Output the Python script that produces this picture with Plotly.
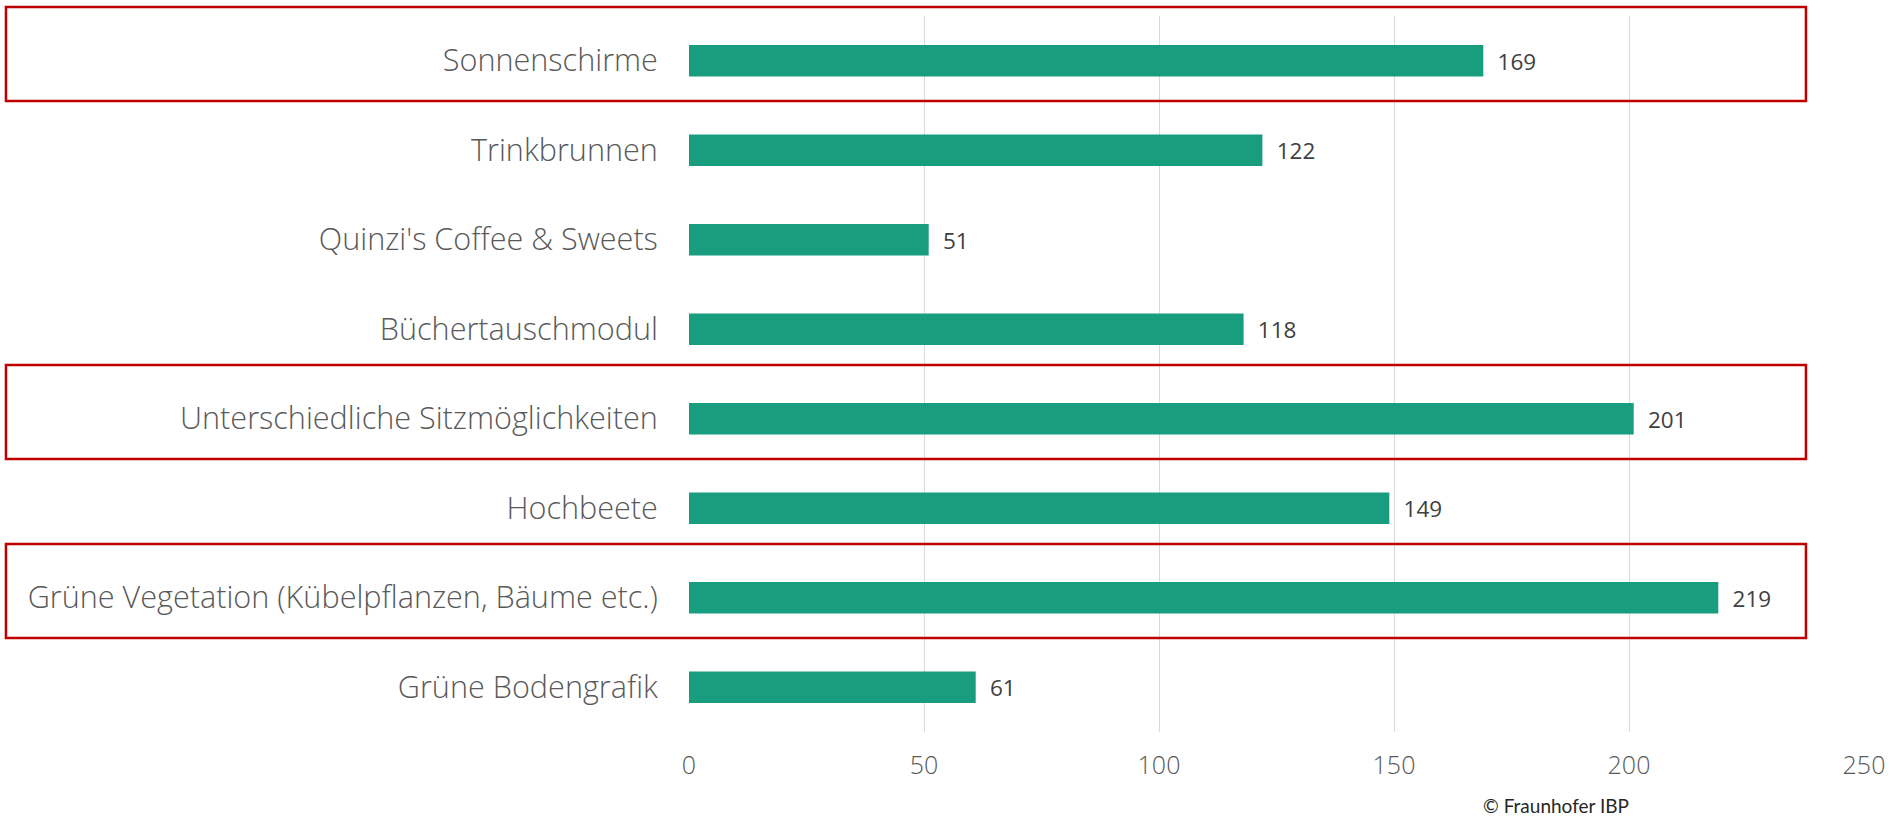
import plotly.graph_objects as go

categories = ["Sonnenschirme", "Trinkbrunnen", "Quinzi's Coffee & Sweets", "Büchertauschmodul",
              "Unterschiedliche Sitzmöglichkeiten", "Hochbeete",
              "Grüne Vegetation (Kübelpflanzen, Bäume etc.)", "Grüne Bodengrafik"]
values = [169, 122, 51, 118, 201, 149, 219, 61]
highlighted = ["Sonnenschirme", "Unterschiedliche Sitzmöglichkeiten",
               "Grüne Vegetation (Kübelpflanzen, Bäume etc.)"]
x_ticks = [0, 50, 100, 150, 200, 250]

n = len(categories)

def cat_to_paper(v):
    # y axis is reversed with range [n-0.5, -0.5]
    return 1 - (v + 0.5) / n

fig = go.Figure(go.Bar(
    x=values, y=categories, orientation="h",
    marker=dict(color="#189E7E", line=dict(width=0)),
    texttemplate="\u2002%{x}", textposition="outside",
    textfont=dict(family="Open Sans", size=23, color="#404040"),
    cliponaxis=False, width=0.35,
))

for c in highlighted:
    i = categories.index(c)
    fig.add_shape(type="rect", xref="paper", yref="paper",
                  x0=-0.5813, x1=0.9506,
                  y0=cat_to_paper(i + 0.45), y1=cat_to_paper(i - 0.60),
                  line=dict(color="#C00000", width=2.5), fillcolor="rgba(0,0,0,0)", layer="above")

fig.add_annotation(text="© Fraunhofer IBP", xref="paper", yref="paper", x=0.738, y=-0.103,
                   showarrow=False, font=dict(family="Lato", size=19, color="#262626"),
                   xanchor="center", yanchor="middle")

fig.update_layout(
    width=1898, height=822,
    margin=dict(l=689, r=34, t=16, b=90),
    plot_bgcolor="white", paper_bgcolor="white",
    showlegend=False,
    xaxis=dict(range=[0, 250], tickvals=x_ticks, showgrid=True, gridcolor="#D9D9D9", gridwidth=1,
               zeroline=False, showline=False, ticks="outside", ticklen=11,
               tickcolor="rgba(0,0,0,0)",
               tickfont=dict(family="Open Sans", size=25, color="#595959", weight=300)),
    yaxis=dict(categoryorder="array", categoryarray=categories, range=[n - 0.5, -0.5],
               showgrid=False, zeroline=False, showline=False, ticks="outside", ticklen=24,
               tickcolor="rgba(0,0,0,0)",
               tickfont=dict(family="Open Sans", size=30.6, color="#595959", weight=300)),
)

fig.write_html("out.html", config={"displayModeBar": False},
               post_script="document.body.style.margin='0px';")
